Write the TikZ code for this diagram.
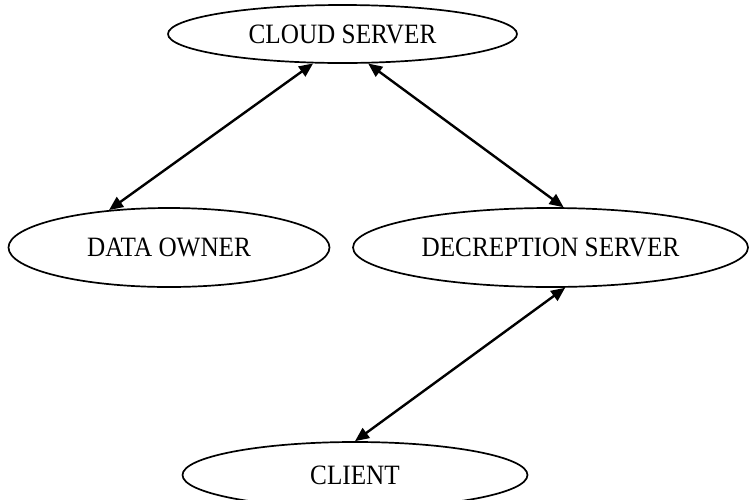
\documentclass[tikz,border=0pt]{standalone}
\usepackage{fontspec}
\setmainfont[FakeStretch=0.9]{Liberation Serif}
\usetikzlibrary{shapes.geometric,arrows.meta}
\begin{document}
\begin{tikzpicture}[x=1pt,y=-1pt,
  oval/.style={ellipse,draw=black,line width=1.7pt,inner sep=0pt,
    font=\fontsize{28}{31}\selectfont},
  link/.style={line width=2.4pt,{Triangle[length=14pt,width=12pt]}-{Triangle[length=14pt,width=12pt]}}]
\useasboundingbox (0,0) rectangle (750,499);
\node[oval,minimum width=349pt,minimum height=58pt] (cloud) at (342.5,34) {CLOUD SERVER};
\node[oval,minimum width=321pt,minimum height=79pt] (owner) at (169,247.5) {DATA OWNER};
\node[oval,minimum width=395pt,minimum height=79pt] (decr) at (550.5,247.5) {DECREPTION SERVER};
\node[oval,minimum width=345pt,minimum height=66pt] (client) at (355,475) {CLIENT};
\draw[link] (cloud.225) -- (owner.148);
\draw[link] (cloud.311) -- (decr.72);
\draw[link] (decr.290) -- (client.90);
\end{tikzpicture}
\end{document}
